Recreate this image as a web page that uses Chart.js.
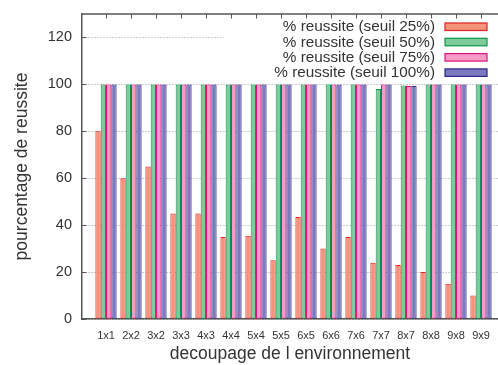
<!DOCTYPE html>
<html><head><meta charset="utf-8">
<script src="https://cdn.jsdelivr.net/npm/chart.js@4/dist/chart.umd.min.js"></script>
<style>html,body{margin:0;padding:0;background:#fff;overflow:hidden}canvas{display:block}</style>
</head><body>
<canvas id="c" width="498" height="365"></canvas>
<script>
const categories = ['1x1','2x2','3x2','3x3','4x3','4x4','5x4','5x5','6x5','6x6','7x6','7x7','8x7','8x8','9x8','9x9'];
const seuil25  = [80, 60, 65, 45, 45, 35, 35.5, 25, 43.5, 30, 35, 24, 23, 20, 15, 10];
const seuil50  = [100,100,100,100,100,100,100,100,100,100,100, 98, 99.5,100,100,100];
const seuil75  = [100,100,100,100,100,100,100,100,100,100,100,100, 99.3,100,100,100];
const seuil100 = [100,100,100,100,100,100,100,100,100,100,100,100, 99.3,100,100,100];
const seriesLabels = ['% reussite (seuil 25%)','% reussite (seuil 50%)','% reussite (seuil 75%)','% reussite (seuil 100%)'];
const yTicks = [0, 20, 40, 60, 80, 100, 120];
const xTitle = 'decoupage de l environnement';
const yTitle = 'pourcentage de reussite';

const fills   = ['#f5937a', '#7dca9b', '#f39cc8', '#7c79bf'];
const borders = ['#e41f22', '#0c9446', '#e0107f', '#2a2789'];
const FONT = "'Liberation Sans', Arial, Helvetica, sans-serif";
const TEXT = '#333333';

const toPoints = arr => arr.map((v, i) => ({x: i, y: v}));
const allSeries = [seuil25, seuil50, seuil75, seuil100];

const framePlugin = {
  id: 'frame',
  beforeDatasetsDraw(chart) {
    const {ctx, chartArea: a} = chart;
    ctx.save();
    ctx.fillStyle = '#ffffff';
    ctx.fillRect(224, a.top + 1, a.right - 224, 67);
    ctx.font = '15.3px ' + FONT;
    ctx.textAlign = 'right';
    ctx.textBaseline = 'middle';
    chart.data.datasets.forEach((ds, i) => {
      const cy = a.top + 12.7 + i * 15.3;
      ctx.fillStyle = TEXT;
      ctx.fillText(ds.label, 435, cy + 0.5);
      ctx.fillStyle = ds.backgroundColor;
      ctx.fillRect(445, cy - 3.7, 42, 7.5);
      ctx.strokeStyle = ds.borderColor;
      ctx.lineWidth = 1.2;
      ctx.strokeRect(445, cy - 3.7, 42, 7.5);
    });
    ctx.restore();
  },
  afterDraw(chart) {
    const {ctx, chartArea: a, scales: {x, y}} = chart;
    ctx.save();
    ctx.strokeStyle = '#555555';
    ctx.lineWidth = 1.5;
    ctx.beginPath();
    ctx.moveTo(a.left, a.top); ctx.lineTo(a.right, a.top);
    ctx.stroke();
    ctx.lineWidth = 1;
    ctx.beginPath();
    categories.forEach((c, i) => {
      const px = Math.round(x.getPixelForValue(i)) + 0.5;
      ctx.moveTo(px, a.top); ctx.lineTo(px, a.top + 4.5);
    });
    yTicks.forEach(v => {
      const py = Math.round(y.getPixelForValue(v)) + 0.5;
      ctx.moveTo(a.left, py); ctx.lineTo(a.left + 4.5, py);
    });
    ctx.stroke();
    ctx.restore();
  }
};

new Chart(document.getElementById('c'), {
  type: 'bar',
  data: {
    datasets: allSeries.map((s, i) => ({
      label: seriesLabels[i],
      data: toPoints(s),
      backgroundColor: fills[i],
      borderColor: borders[i],
      borderWidth: 1,
      borderSkipped: false,
      categoryPercentage: 0.85,
      barPercentage: 1.0
    }))
  },
  options: {
    responsive: false,
    animation: false,
    devicePixelRatio: 1,
    layout: {padding: {top: 14, right: 0, bottom: 0, left: 0}},
    plugins: {legend: {display: false}, tooltip: {enabled: false}},
    scales: {
      x: {
        type: 'linear',
        offset: false,
        min: -0.96,
        max: 15.68,
        afterBuildTicks: scale => { scale.ticks = categories.map((c, i) => ({value: i})); },
        afterFit: scale => { scale.height = 46; scale.paddingLeft = 0; scale.paddingRight = 0; },
        grid: {display: false, drawTicks: false},
        border: {display: true, color: '#555555', width: 1.5},
        ticks: {
          autoSkip: false, maxRotation: 0, padding: 10,
          color: TEXT, font: {family: FONT, size: 11},
          callback: v => categories[v] ?? ''
        },
        title: {display: true, text: xTitle, color: TEXT, font: {family: FONT, size: 17.5}, padding: {top: 0, bottom: 0}}
      },
      y: {
        min: 0,
        max: 130,
        afterBuildTicks: scale => { scale.ticks = yTicks.map(v => ({value: v})); },
        afterFit: scale => { scale.width = 82; scale.paddingTop = 0; scale.paddingBottom = 0; },
        grid: {display: true, drawTicks: false, color: '#9a9a9a', lineWidth: 1},
        border: {display: true, color: '#555555', width: 1.5, dash: [1, 2]},
        ticks: {padding: 10, color: TEXT, font: {family: FONT, size: 14.5}},
        title: {display: true, text: yTitle, color: TEXT, font: {family: FONT, size: 17.5}, padding: {top: 12, bottom: 0}}
      }
    }
  },
  plugins: [framePlugin]
});
</script>
</body></html>
